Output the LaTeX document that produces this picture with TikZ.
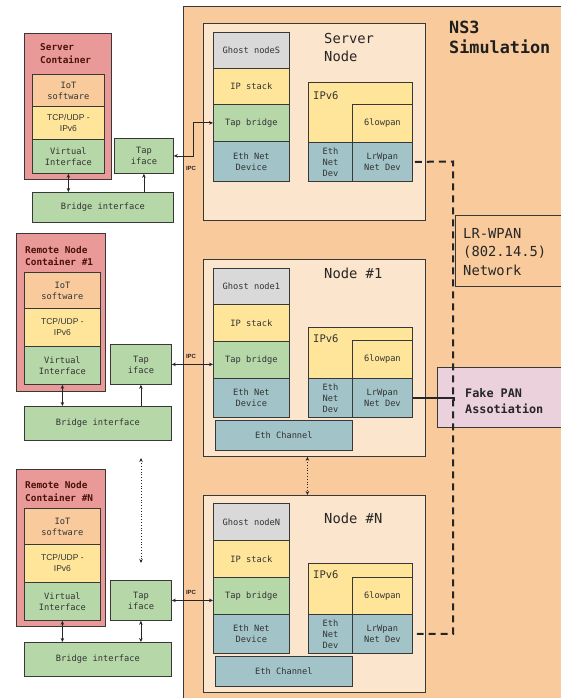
\documentclass[tikz,border=0pt]{standalone}
\usepackage{fontspec}
\setmainfont{DejaVu Sans Mono}
\newfontfamily\arialf{Liberation Sans}
\usetikzlibrary{arrows.meta}
\definecolor{nsorange}{HTML}{F9CB9C}
\definecolor{nodebg}{HTML}{FCE5CD}
\definecolor{ghost}{HTML}{D9D9D9}
\definecolor{yel}{HTML}{FFE599}
\definecolor{grn}{HTML}{B6D7A8}
\definecolor{cyn}{HTML}{A2C4C9}
\definecolor{redc}{HTML}{EA9999}
\definecolor{pinkc}{HTML}{EAD1DC}
\definecolor{txt}{HTML}{333333}
\definecolor{ttl}{HTML}{4A1208}
\tikzset{
  box/.style={draw=black!78, line width=0.8pt, text=txt, align=center, inner sep=0pt,
    font=\fontsize{8.7}{11}\selectfont},
  ttlfont/.style={font=\bfseries\fontsize{9.4}{12.8}\selectfont, text=ttl, align=left, anchor=west, inner sep=0pt},
  nodettl/.style={font=\fontsize{13.8}{18}\selectfont, text=black!85, align=left, anchor=west, inner sep=0pt},
  arr/.style={line width=0.8pt, draw=black!85, -{Stealth[length=4pt,width=3.5pt]}},
  darr/.style={line width=0.8pt, draw=black!85, {Stealth[length=4pt,width=3.5pt]}-{Stealth[length=4pt,width=3.5pt]}},
  ipc/.style={font=\arialf\bfseries\fontsize{6}{7}\selectfont, inner sep=0pt, text=black!85},
  tcpfont/.style={font=\arialf\fontsize{8.5}{11}\selectfont},
}
\newcommand\bx[7][]{\node[box,#1,anchor=north west,minimum width={(#5-#3)*1pt},minimum height={(#6-#4)*1pt}] (#2) at (#3,#4) {#7};}
\begin{document}
\begin{tikzpicture}[x=1pt,y=-1pt]
\useasboundingbox (0,0) rectangle (561,698);
\fill[white] (0,0) rectangle (561,698);
% NS3 background
\bx[fill=nsorange]{ns3}{183}{6}{580}{720}{}
\node[anchor=north west, font=\bfseries\fontsize{16.8}{20}\selectfont, align=left, inner sep=0pt, text=black!88] (ns3t) at (449,21) {NS3\\Simulation};

% Server node
\bx[fill=nodebg]{sNode}{203}{23}{425}{220}{}
\node[nodettl] (sTitle) at (324,47) {Server\\Node};
\bx[fill=ghost]{sGh}{213}{32}{289}{68}{Ghost nodeS}
\bx[fill=yel]{sIp}{213}{68}{289}{104}{IP stack}
\bx[fill=grn]{sTb}{213}{104}{289}{141}{Tap bridge}
\bx[fill=cyn]{sEth}{213}{141}{289}{181}{Eth Net\\Device}
\bx[fill=yel]{sV6}{308}{82}{412}{142}{}
\node[anchor=west, inner sep=0pt, font=\fontsize{10.5}{12}\selectfont, text=txt] (sV6t) at (313,96) {IPv6};
\bx[fill=yel]{sLo}{352}{104}{412}{142}{6lowpan}
\bx[fill=cyn]{sEd}{308}{142}{352}{181}{Eth\\Net\\Dev}
\bx[fill=cyn]{sLw}{352}{142}{412}{181}{LrWpan\\Net Dev}

% Node 1
\bx[fill=nodebg]{aNode}{203}{259}{425}{456}{}
\node[nodettl] (aTitle) at (324,273) {Node \#1};
\bx[fill=ghost]{aGh}{213}{268}{289}{304}{Ghost node1}
\bx[fill=yel]{aIp}{213}{304}{289}{341}{IP stack}
\bx[fill=grn]{aTb}{213}{341}{289}{378}{Tap bridge}
\bx[fill=cyn]{aEth}{213}{378}{289}{417}{Eth Net\\Device}
\bx[fill=cyn]{aCh}{215}{420}{352}{450}{Eth Channel}
\bx[fill=yel]{aV6}{308}{327}{412}{378}{}
\node[anchor=west, inner sep=0pt, font=\fontsize{10.5}{12}\selectfont, text=txt] (aV6t) at (313,339) {IPv6};
\bx[fill=yel]{aLo}{352}{340}{412}{378}{6lowpan}
\bx[fill=cyn]{aEd}{308}{378}{352}{417}{Eth\\Net\\Dev}
\bx[fill=cyn]{aLw}{352}{378}{412}{417}{LrWpan\\Net Dev}

% Node N
\bx[fill=nodebg]{nNode}{203}{495}{425}{692}{}
\node[nodettl] (nTitle) at (324,518) {Node \#N};
\bx[fill=ghost]{nGh}{213}{503}{289}{540}{Ghost nodeN}
\bx[fill=yel]{nIp}{213}{540}{289}{577}{IP stack}
\bx[fill=grn]{nTb}{213}{577}{289}{614}{Tap bridge}
\bx[fill=cyn]{nEth}{213}{614}{289}{653}{Eth Net\\Device}
\bx[fill=cyn]{nCh}{215}{656}{352}{686}{Eth Channel}
\bx[fill=yel]{nV6}{308}{563}{412}{614}{}
\node[anchor=west, inner sep=0pt, font=\fontsize{10.5}{12}\selectfont, text=txt] (nV6t) at (313,575) {IPv6};
\bx[fill=yel]{nLo}{352}{577}{412}{614}{6lowpan}
\bx[fill=cyn]{nEd}{308}{614}{352}{653}{Eth\\Net\\Dev}
\bx[fill=cyn]{nLw}{352}{614}{412}{653}{LrWpan\\Net Dev}

% LR-WPAN and Fake PAN
\bx[fill=nsorange]{lr}{455}{215}{580}{286}{}
\node[anchor=west, inner sep=0pt, align=left, font=\fontsize{13.8}{18.5}\selectfont, text=black!85] (lrt) at (463,252) {LR-WPAN\\(802.14.5)\\Network};
\bx[fill=pinkc]{fp}{437}{367}{580}{427}{}
\node[anchor=west, inner sep=0pt, align=left, font=\bfseries\fontsize{11.8}{16}\selectfont, text=black!85] (fpt) at (465,401) {Fake PAN\\Assotiation};

% links to the LR-WPAN network
\draw[line width=1.5pt, black!85] (aLw.east) -- ++(41,0) -- ++(0,3);
\draw[line width=2pt, black!85, dash pattern=on 7pt off 5pt] (sLw.east) ++(2,0) -- (453,161.5) |- ([xshift=4pt]nLw.east);
\draw[darr, dotted, line width=0.7pt] ([xshift=-7pt]aNode.south) -- ([xshift=-7pt]nNode.north);

% Server container
\bx[fill=redc]{sCon}{24}{33}{111}{179}{}
\node[ttlfont] (sCt) at (40,53.5) {Server\\Container};
\bx[fill=nsorange]{sIot}{32}{74}{104}{106}{IoT\\software}
\bx[fill=yel,tcpfont]{sTcp}{32}{106}{104}{139}{TCP/UDP -\\IPv6}
\bx[fill=grn]{sVi}{32}{139}{104}{173}{Virtual\\Interface}
\bx[fill=grn]{sTap}{114}{138}{173}{173}{Tap\\iface}
\bx[fill=grn]{sBr}{32}{192}{173}{222}{Bridge interface}
\draw[darr] (sVi.south) -- (sVi.south |- sBr.north);
\draw[arr] (sTap.south |- sBr.north) -- (sTap.south);
\draw[darr] (sTap.east) -- ++(20,0) |- (sTb.west);
\node[ipc] (sIpc) at (191,168) {IPC};

% Remote node container 1
\bx[fill=redc]{aCon}{16}{233}{105}{391}{}
\node[ttlfont] (aCt) at (25,256) {Remote Node\\Container \#1};
\bx[fill=nsorange]{aIot}{24}{272}{100}{308}{IoT\\software}
\bx[fill=yel,tcpfont]{aTcp}{24}{308}{100}{346}{TCP/UDP -\\IPv6}
\bx[fill=grn]{aVi}{24}{346}{100}{384}{Virtual\\Interface}
\bx[fill=grn]{aTap}{110}{344}{171}{384}{Tap\\iface}
\bx[fill=grn]{aBr}{24}{406}{171}{440}{Bridge interface}
\draw[darr] (aVi.south) -- (aVi.south |- aBr.north);
\draw[arr] (aTap.south |- aBr.north) -- (aTap.south);
\draw[darr] (aTap.east) -- (aTap.east -| aTb.west);
\node[ipc] (aIpc) at (191,356) {IPC};

% Remote node container N
\bx[fill=redc]{nCon}{16}{469}{105}{626}{}
\node[ttlfont] (nCt) at (25,491.5) {Remote Node\\Container \#N};
\bx[fill=nsorange]{nIot}{24}{508}{100}{544}{IoT\\software}
\bx[fill=yel,tcpfont]{nTcp}{24}{544}{100}{582}{TCP/UDP -\\IPv6}
\bx[fill=grn]{nVi}{24}{582}{100}{620}{Virtual\\Interface}
\bx[fill=grn]{nTap}{110}{580}{171}{620}{Tap\\iface}
\bx[fill=grn]{nBr}{24}{642}{171}{676}{Bridge interface}
\draw[darr] (nVi.south) -- (nVi.south |- nBr.north);
\draw[darr] (nTap.south) -- (nTap.south |- nBr.north);
\draw[darr] (nTap.east) -- (nTap.east -| nTb.west);
\node[ipc] (nIpc) at (191,592) {IPC};

% dotted arrow between remote containers
\coordinate (dTop) at (141,458);
\coordinate (dBot) at (141,563);
\draw[darr, dotted, line width=0.7pt] (dTop) -- (dBot);
\end{tikzpicture}
\end{document}
